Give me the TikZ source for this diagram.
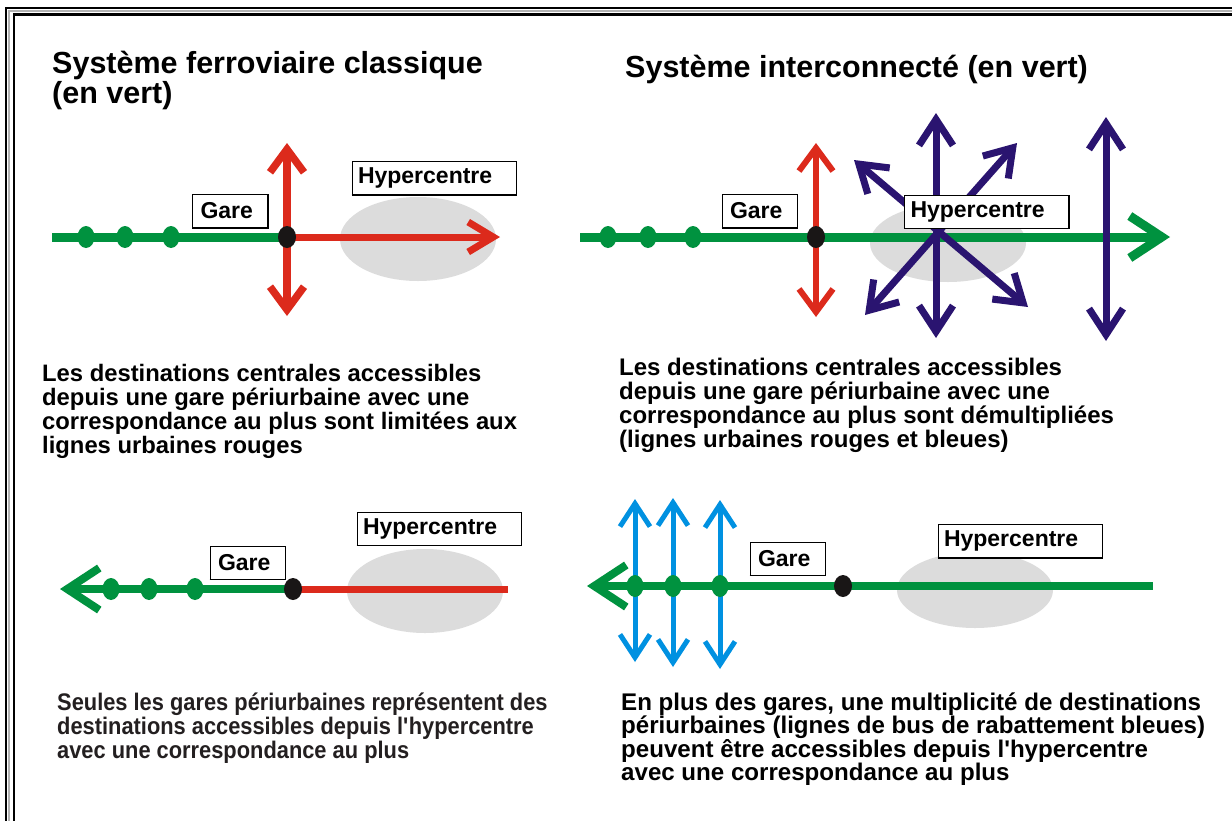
\documentclass[tikz,border=0pt]{standalone}
\usepackage{fontspec}
\setmainfont{Liberation Sans}
\newfontfamily\narrowfont{Liberation Sans}[FakeStretch=0.91]
\usetikzlibrary{arrows.meta,shapes.geometric}
\definecolor{rgreen}{RGB}{0,146,63}
\definecolor{rred}{RGB}{220,42,28}
\definecolor{rnavy}{RGB}{42,20,112}
\definecolor{rblue}{RGB}{0,145,225}
\definecolor{rgrey}{RGB}{220,220,220}
\definecolor{rdot}{RGB}{25,22,22}
\definecolor{rtext}{RGB}{35,31,32}
\tikzset{
  redV/.tip={Straight Barb[length=23pt,width=34pt]},
  redH/.tip={Straight Barb[length=25pt,width=30pt]},
  navyV/.tip={Straight Barb[length=26pt,width=34pt]},
  greenV/.tip={Straight Barb[length=32pt,width=42pt]},
  blueV/.tip={Straight Barb[length=23pt,width=30pt]},
  hyperzone/.style={ellipse, fill=rgrey, draw=none, inner sep=0pt},
  gline/.style={rgreen, line width=9pt},
  gdot/.style={ellipse, fill=rgreen, draw=none, inner sep=0pt, minimum width=17pt, minimum height=22pt},
  bdot/.style={ellipse, fill=rdot, draw=none, inner sep=0pt, minimum width=18pt, minimum height=22pt},
  rline/.style={rred, line width=7pt},
  nline/.style={rnavy, line width=7pt},
  bline/.style={rblue, line width=5pt},
  lbl/.style={draw=black, fill=white, line width=1pt, inner ysep=0pt, align=left,
    minimum height=33pt, font=\bfseries\fontsize{23}{23}\selectfont},
  gare/.style={lbl, inner xsep=8pt, text width=59pt},
  hyper/.style={lbl, inner xsep=6pt, text width=152pt},
  shadowline/.style={line width=1.5pt},
  title/.style={anchor=base west, inner sep=0pt, align=left, font=\bfseries\fontsize{30.5}{28}\selectfont},
  para/.style={anchor=base west, inner sep=0pt, align=left, font=\bfseries\fontsize{23.8}{24}\selectfont},
  frameline/.style={line width=2.2pt, line cap=rect}
}
\begin{document}
\begin{tikzpicture}[x=1pt,y=-1pt]
\useasboundingbox (0,0) rectangle (1232,820);
\fill[white] (0,0) rectangle (1232,820);
% frame
\draw[frameline] (6,820) -- (6,8.3) -- (1232,8.3);
\draw[frameline, gray!60, line width=2pt] (8.6,820) -- (8.6,10.6) -- (1232,10.6);
\draw[frameline, line width=2.4pt] (14,820) -- (14,14.5) -- (1232,14.5);

% titles (anchor = baseline of the last line)
\node[title] (t1) at (52,103) {Système ferroviaire classique\\(en vert)};
\node[title] (t2) at (625,77) {Système interconnecté (en vert)};

% ================= top left
\node[hyperzone, minimum width=156pt, minimum height=84pt] (hz1) at (418,239) {};
\coordinate (a1) at (52,237);
\coordinate (j1) at (287,237);
\coordinate (r1e) at (500,237);
\coordinate (r1t) at (287,143);
\coordinate (r1b) at (287,316);
\draw[gline] (a1) -- (j1);
\draw[rline, -{redH}] (j1) -- (r1e);
\draw[rline, line width=7.5pt, {redV}-{redV}] (r1b) -- (r1t);
\node[gdot] (d11) at (86,237) {};
\node[gdot] (d12) at (125,237) {};
\node[gdot] (d13) at (171,237) {};
\node[bdot] (s1) at (j1) {};
\node[gare] (g1) at (230,211) {Gare};
\draw[shadowline] (g1.south west) -- (g1.south east) -- (g1.north east);
\node[hyper] (h1) at (434,178) {Hypercentre};
\draw[shadowline] (h1.south west) -- (h1.south east) -- (h1.north east);

\node[para] (p1) at (42,453) {Les destinations centrales accessibles\\depuis une gare périurbaine avec une\\correspondance au plus sont limitées aux\\lignes urbaines rouges};

% ================= top right
\node[hyperzone, minimum width=156pt, minimum height=78pt] (hz2) at (948,243) {};
\coordinate (a2) at (580,237);
\coordinate (a2e) at (1170,237);
\coordinate (j2) at (816,237);
\coordinate (r2t) at (816,143);
\coordinate (r2b) at (816,317);
\coordinate (c2) at (936,232);
\coordinate (n2t) at (936,113);
\coordinate (n2b) at (936,338);
\coordinate (n2ul) at (854,160);
\coordinate (n2dr) at (1028,307);
\coordinate (n2ur) at (1017,143);
\coordinate (n2dl) at (865,315);
\coordinate (n3t) at (1106,117);
\coordinate (n3b) at (1106,341);
\draw[gline, -{greenV}] (a2) -- (a2e);
\draw[rline, line width=6pt, {redV}-{redV}] (r2b) -- (r2t);
\draw[nline, {navyV}-{navyV}] (n2b) -- (n2t);
\draw[nline, {navyV}-{navyV}] (n2dr) -- (n2ul);
\draw[nline, {navyV}-{navyV}] (n2dl) -- (n2ur);
\draw[nline, {navyV}-{navyV}] (n3b) -- (n3t);
\node[gdot] (d21) at (608,237) {};
\node[gdot] (d22) at (648,237) {};
\node[gdot] (d23) at (693,237) {};
\node[bdot] (s2) at (j2) {};
\node[gare] (g2) at (759.5,211) {Gare};
\draw[shadowline] (g2.south west) -- (g2.south east) -- (g2.north east);
\node[hyper] (h2) at (986.5,211.5) {Hypercentre};
\draw[shadowline] (h2.south west) -- (h2.south east) -- (h2.north east);

\node[para, font=\bfseries\fontsize{24}{24}\selectfont] (p2) at (619,447) {Les destinations centrales accessibles\\depuis une gare périurbaine avec une\\correspondance au plus sont démultipliées\\(lignes urbaines rouges et bleues)};

% ================= bottom left
\node[hyperzone, minimum width=156pt, minimum height=84pt] (hz3) at (425,591) {};
\coordinate (a3) at (60,589);
\coordinate (j3) at (293,589);
\coordinate (r3e) at (508,589);
\draw[rline] (j3) -- (r3e);
\draw[gline, line width=8pt, {greenV}-] (a3) -- (j3);
\node[gdot] (d31) at (111,589) {};
\node[gdot] (d32) at (149,589) {};
\node[gdot] (d33) at (195,589) {};
\node[bdot] (s3) at (j3) {};
\node[gare] (g3) at (247.5,562.5) {Gare};
\draw[shadowline] (g3.south west) -- (g3.south east) -- (g3.north east);
\node[hyper] (h3) at (439,528.5) {Hypercentre};
\draw[shadowline] (h3.south west) -- (h3.south east) -- (h3.north east);

\node[para, text=rtext, font=\narrowfont\bfseries\fontsize{24}{24}\selectfont] (p3) at (57,758) {Seules les gares périurbaines représentent des\\destinations accessibles depuis l\textquotesingle hypercentre\\avec une correspondance au plus};

% ================= bottom right
\node[hyperzone, minimum width=156pt, minimum height=76pt] (hz4) at (975,590) {};
\coordinate (a4) at (587,586);
\coordinate (a4e) at (1153,586);
\coordinate (j4) at (843,586);
\coordinate (b1t) at (635,499);
\coordinate (b1b) at (635,662);
\coordinate (b2t) at (673,498);
\coordinate (b2b) at (673,667);
\coordinate (b3t) at (720,500);
\coordinate (b3b) at (720,669);
\draw[gline, line width=8pt, {greenV}-] (a4) -- (a4e);
\draw[bline, {blueV}-{blueV}] (b1b) -- (b1t);
\draw[bline, {blueV}-{blueV}] (b2b) -- (b2t);
\draw[bline, {blueV}-{blueV}] (b3b) -- (b3t);
\node[gdot] (d41) at (635,586) {};
\node[gdot] (d42) at (673,586) {};
\node[gdot] (d43) at (720,586) {};
\node[bdot] (s4) at (j4) {};
\node[gare] (g4) at (787.5,558.5) {Gare};
\draw[shadowline] (g4.south west) -- (g4.south east) -- (g4.north east);
\node[hyper] (h4) at (1020,541) {Hypercentre};
\draw[shadowline] (h4.south west) -- (h4.south east) -- (h4.north east);

\node[para, font=\bfseries\fontsize{24.1}{23.5}\selectfont] (p4) at (621,780.5) {En plus des gares, une multiplicité de destinations\\périurbaines (lignes de bus de rabattement bleues)\\peuvent être accessibles depuis l\textquotesingle hypercentre\\avec une correspondance au plus};
\end{tikzpicture}
\end{document}
